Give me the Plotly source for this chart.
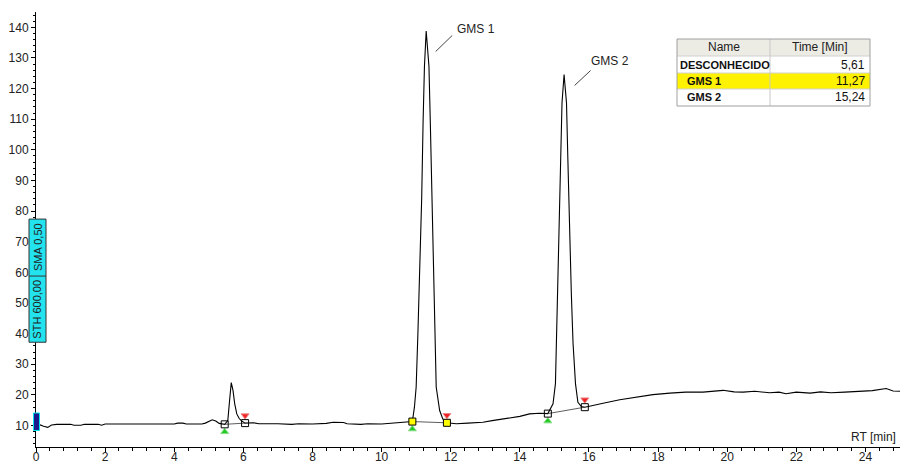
import plotly.graph_objects as go

# ---- chromatogram trace ----
rt = [0.00, 0.10, 0.22, 0.34, 0.45, 0.60, 1.00, 1.10, 1.30, 1.40, 1.80, 1.90, 2.00, 2.40, 3.00, 3.60,
      4.00, 4.10, 4.25, 4.35, 4.80, 4.90, 5.00, 5.10, 5.20, 5.30, 5.46, 5.55, 5.60, 5.65, 5.70, 5.75,
      5.81, 5.88, 5.94, 6.05, 6.30, 6.45, 7.00, 7.40, 7.60, 8.00, 8.40, 8.60, 8.90, 9.00, 9.40, 9.60,
      10.00, 10.30, 10.60, 10.89, 10.95, 11.00, 11.05, 11.10, 11.16, 11.20, 11.24, 11.29, 11.37, 11.41,
      11.44, 11.50, 11.53, 11.58, 11.68, 11.77, 11.89, 12.16, 12.50, 12.93, 13.20, 13.61, 14.00, 14.28,
      14.57, 14.81, 14.96, 15.03, 15.06, 15.10, 15.14, 15.18, 15.22, 15.28, 15.35, 15.39, 15.43, 15.49,
      15.54, 15.61, 15.68, 15.78, 15.88, 16.10, 16.41, 16.89, 17.37, 17.85, 18.34, 18.80, 19.30, 19.60,
      19.88, 20.20, 20.46, 20.80, 21.23, 21.50, 21.70, 22.00, 22.40, 22.70, 23.00, 23.40, 23.80, 24.20,
      24.60, 24.80, 25.00]
signal = [10.3, 10.3, 9.8, 9.4, 10.2, 10.4, 10.4, 10.1, 10.1, 10.4, 10.4, 10.1, 10.5, 10.5, 10.5, 10.5,
          10.5, 10.8, 10.8, 10.5, 10.5, 10.8, 11.4, 11.9, 11.5, 10.7, 10.4, 11.6, 18.0, 24.0, 21.5, 17.1,
          13.8, 12.3, 11.6, 10.8, 10.9, 10.6, 10.6, 10.4, 10.6, 10.5, 10.7, 11.1, 11.0, 10.6, 10.4, 10.6,
          10.5, 10.7, 11.0, 11.3, 16.0, 22.6, 40.0, 59.7, 84.2, 108.8, 127.3, 138.8, 127.3, 108.8,
          92.4, 59.7, 40.0, 22.6, 14.9, 12.2, 10.9, 10.6, 10.8, 11.1, 11.6, 12.2, 13.0, 13.8,
          14.0, 13.9, 17.1, 23.7, 36.8, 55.3, 74.9, 95.7, 115.3, 124.6, 115.3, 96.7, 74.9, 53.1,
          36.8, 23.7, 17.6, 16.2, 16.0, 16.6, 17.3, 18.4, 19.3, 20.1, 20.6, 20.9, 20.9, 21.2,
          21.5, 21.0, 20.9, 21.2, 20.7, 20.9, 20.4, 20.9, 20.6, 21.0, 20.7, 20.9, 21.1, 21.4,
          22.1, 21.3, 21.2]

# ---- peak table ----
peak_names = ["DESCONHECIDO", "GMS 1", "GMS 2"]
peak_times = ["5,61", "11,27", "15,24"]
peak_apex_rt = [5.65, 11.29, 15.28]
peak_apex_h = [24.0, 138.8, 124.6]
peak_start_rt = [5.46, 10.89, 14.81]
peak_start_h = [10.4, 11.3, 13.9]
peak_end_rt = [6.05, 11.89, 15.88]
peak_end_h = [10.8, 10.9, 16.0]
peak_labelled = [False, True, True]
selected_peak = 1

x_ticks = list(range(0, 25, 2))
y_ticks = list(range(10, 150, 10))

# ---- geometry helpers (plot area in pixels) ----
W, H = 901, 465
ML, MR, MT, MB = 36, 1, 12, 18
XR = [0, 25]
YR = [3, 145]
PW, PH = W - ML - MR, H - MT - MB
SX = PW / (XR[1] - XR[0])
SY = PH / (YR[1] - YR[0])


def px(x):
    return (x - ML) / PW


def py(y):
    return (H - MB - y) / PH


FONT = "Liberation Sans"

fig = go.Figure()

fig.add_trace(go.Scatter(x=rt, y=signal, mode="lines",
                         line=dict(color="black", width=1.1), hoverinfo="skip"))

# integration baselines
for i in range(len(peak_names)):
    fig.add_trace(go.Scatter(x=[peak_start_rt[i], peak_end_rt[i]],
                             y=[peak_start_h[i], peak_end_h[i]], mode="lines",
                             line=dict(color="#333333", width=0.8), hoverinfo="skip"))

# green start markers (below) and red end markers (above)
off = 7.5 / SY
fig.add_trace(go.Scatter(x=peak_start_rt, y=[v - off for v in peak_start_h], mode="markers",
                         marker=dict(symbol="triangle-up", size=7, color="#22cc22",
                                     line=dict(color="#88dd88", width=1)),
                         cliponaxis=False, hoverinfo="skip"))
fig.add_trace(go.Scatter(x=peak_end_rt, y=[v + off for v in peak_end_h], mode="markers",
                         marker=dict(symbol="triangle-down", size=7, color="#ee2222",
                                     line=dict(color="#ee8888", width=1)),
                         cliponaxis=False, hoverinfo="skip"))

# start/end squares
sq_fill = ["#ffff00" if i == selected_peak else "rgba(255,255,255,0)" for i in range(len(peak_names))]
fig.add_trace(go.Scatter(x=peak_start_rt + peak_end_rt, y=peak_start_h + peak_end_h, mode="markers",
                         marker=dict(symbol="square", size=7, color=sq_fill + sq_fill,
                                     line=dict(color="black", width=1)),
                         cliponaxis=False, hoverinfo="skip"))

shapes = []
annotations = []

# peak labels with leader lines (pixel offsets from apex)
label_style = {1: dict(l0=(9.5, 20.5), l1=(26, 4.5), t=(29, -1.5)),
               2: dict(l0=(10.5, 11), l1=(26.5, -4), t=(24.5, -13))}
for i, name in enumerate(peak_names):
    if not peak_labelled[i]:
        continue
    st = label_style[i]
    x0 = peak_apex_rt[i] + st["l0"][0] / SX
    y0 = peak_apex_h[i] - st["l0"][1] / SY
    x1 = peak_apex_rt[i] + st["l1"][0] / SX
    y1 = peak_apex_h[i] - st["l1"][1] / SY
    shapes.append(dict(type="line", xref="x", yref="y", x0=x0, y0=y0, x1=x1, y1=y1,
                       line=dict(color="#444444", width=1)))
    annotations.append(dict(xref="x", yref="y", x=peak_apex_rt[i] + st["t"][0] / SX,
                            y=peak_apex_h[i] - st["t"][1] / SY, text=name, showarrow=False,
                            xanchor="left", yanchor="middle",
                            font=dict(family=FONT, size=12, color="#222222")))

# start marker at origin
shapes.append(dict(type="rect", xref="paper", yref="y", x0=px(33.5), x1=px(39.5), y0=8.4, y1=14.1,
                   fillcolor="#1a1a8c", line=dict(color="#00e5ee", width=1)))

# cyan label box on y axis
box_y0, box_y1, box_mid = 37.2, 77.4, 58.8
shapes.append(dict(type="rect", xref="paper", yref="y", x0=px(29), x1=px(46), y0=box_y0, y1=box_y1,
                   fillcolor="#22e3ee", line=dict(color="#333333", width=1)))
shapes.append(dict(type="line", xref="paper", yref="y", x0=px(29), x1=px(46), y0=box_mid, y1=box_mid,
                   line=dict(color="#333333", width=1)))
annotations.append(dict(xref="paper", yref="y", x=px(37.5), y=(box_mid + box_y1) / 2, text="SMA 0,50",
                        showarrow=False, textangle=-90, xanchor="center", yanchor="middle",
                        font=dict(family=FONT, size=11, color="#222222")))
annotations.append(dict(xref="paper", yref="y", x=px(37.5), y=(box_y0 + box_mid) / 2, text="STH 600,00",
                        showarrow=False, textangle=-90, xanchor="center", yanchor="middle",
                        font=dict(family=FONT, size=11, color="#222222")))

# axis title
annotations.append(dict(xref="paper", yref="paper", x=px(898), y=py(437), text="RT [min]",
                        showarrow=False, xanchor="right", yanchor="middle",
                        font=dict(family=FONT, size=12, color="#222222")))

# peak table
TL, TD, TR = 677, 770, 870
rows = [39, 56, 73, 89, 106]
shapes.append(dict(type="rect", xref="paper", yref="paper", x0=px(TL), x1=px(TR), y0=py(rows[1]),
                   y1=py(rows[0]), fillcolor="#ecebe4", line=dict(width=0)))
shapes.append(dict(type="rect", xref="paper", yref="paper", x0=px(TL), x1=px(TR),
                   y0=py(rows[selected_peak + 2]), y1=py(rows[selected_peak + 1]),
                   fillcolor="#fff200", line=dict(width=0)))
for r in rows[1:-1]:
    shapes.append(dict(type="line", xref="paper", yref="paper", x0=px(TL), x1=px(TR), y0=py(r), y1=py(r),
                       line=dict(color="#d0d0d0", width=1)))
shapes.append(dict(type="line", xref="paper", yref="paper", x0=px(TD), x1=px(TD), y0=py(rows[-1]),
                   y1=py(rows[0]), line=dict(color="#c8c8c8", width=1)))
shapes.append(dict(type="rect", xref="paper", yref="paper", x0=px(TL), x1=px(TR), y0=py(rows[-1]),
                   y1=py(rows[0]), line=dict(color="#a0a0a0", width=1)))
annotations.append(dict(xref="paper", yref="paper", x=px((TL + TD) / 2), y=py((rows[0] + rows[1]) / 2),
                        text="Name", showarrow=False, xanchor="center", yanchor="middle",
                        font=dict(family=FONT, size=12, color="#222222")))
annotations.append(dict(xref="paper", yref="paper", x=px((TD + TR) / 2), y=py((rows[0] + rows[1]) / 2),
                        text="Time [Min]", showarrow=False, xanchor="center", yanchor="middle",
                        font=dict(family=FONT, size=12, color="#222222")))
for i, name in enumerate(peak_names):
    yc = py((rows[i + 1] + rows[i + 2]) / 2)
    indent = 678 if i == 0 else 685
    annotations.append(dict(xref="paper", yref="paper", x=px(indent), y=yc, text="<b>%s</b>" % name,
                            showarrow=False, xanchor="left", yanchor="middle",
                            font=dict(family=FONT, size=11, color="#111111")))
    annotations.append(dict(xref="paper", yref="paper", x=px(TR - 3), y=yc, text=peak_times[i],
                            showarrow=False, xanchor="right", yanchor="middle",
                            font=dict(family=FONT, size=12, color="#111111")))

fig.update_layout(
    width=W, height=H, margin=dict(l=ML, r=MR, t=MT, b=MB, pad=0),
    paper_bgcolor="white", plot_bgcolor="white", showlegend=False,
    font=dict(family=FONT, size=12, color="#222222"),
    shapes=shapes, annotations=annotations,
    xaxis=dict(range=XR, tickvals=x_ticks, ticktext=[str(v) for v in x_ticks], showgrid=False,
               zeroline=False, showline=True, linecolor="black", linewidth=1, ticks="outside",
               ticklen=4, tickcolor="black", automargin=False, ticklabelstandoff=-5,
               minor=dict(dtick=0.4, tick0=0, ticks="outside", ticklen=3, tickcolor="black"),
               tickfont=dict(family=FONT, size=12, color="#222222")),
    yaxis=dict(range=YR, tickvals=y_ticks, ticktext=[str(v) for v in y_ticks], showgrid=False,
               zeroline=False, showline=True, linecolor="black", linewidth=1, ticks="outside",
               ticklen=4, tickcolor="black", automargin=False,
               minor=dict(dtick=2, tick0=0, ticks="outside", ticklen=2, tickcolor="black"),
               tickfont=dict(family=FONT, size=12, color="#222222")),
)

fig.write_html("out.html")
